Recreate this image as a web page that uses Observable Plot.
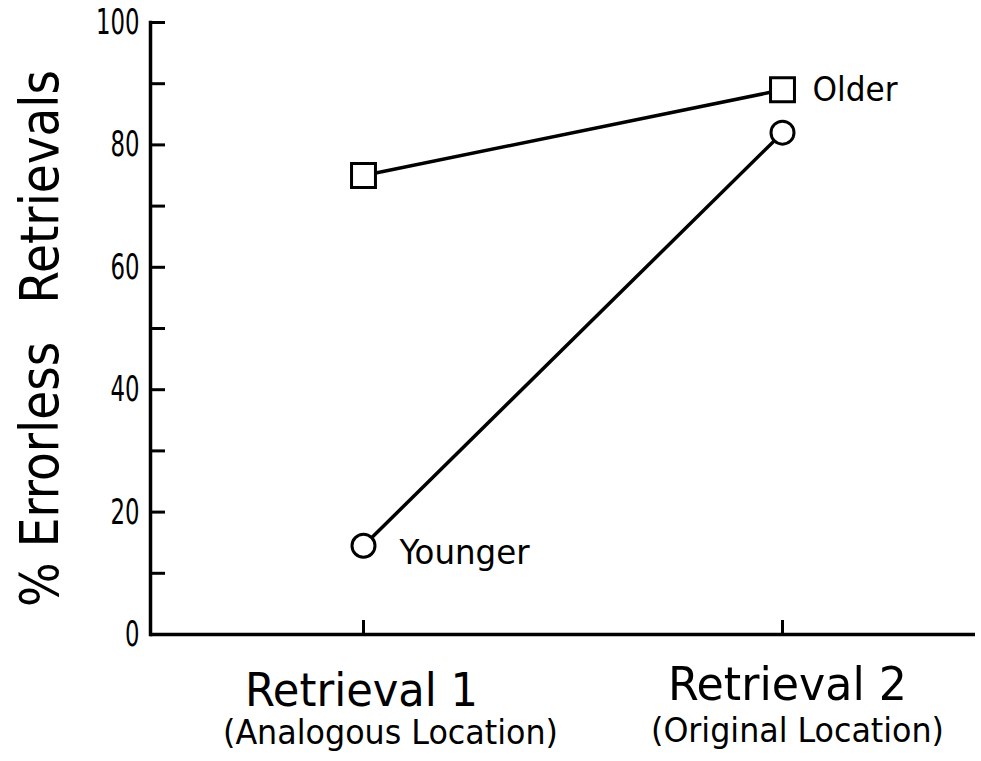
<!DOCTYPE html>
<html><head><meta charset="utf-8">
<script src="https://cdn.jsdelivr.net/npm/d3@7"></script>
<script src="https://cdn.jsdelivr.net/npm/@observablehq/plot@0.6"></script>
<style>
html,body{margin:0;padding:0;background:#fff;}
</style></head><body><div id="chart"></div>
<script>
const categories = ["Retrieval 1", "Retrieval 2"];
const subLabels = ["(Analogous Location)", "(Original Location)"];
const olderValues = [75, 89];
const youngerValues = [14.5, 82];
const yTickLabels = [0, 20, 40, 60, 80, 100];
const yMinorTicks = [10, 30, 50, 70, 90];
const yTitle = "% Errorless\u2002\u00a0Retrievals";

const older = categories.map((c, i) => ({group: "Older", cat: c, value: olderValues[i]}));
const younger = categories.map((c, i) => ({group: "Younger", cat: c, value: youngerValues[i]}));
const data = [...older, ...younger];
const subData = categories.map((c, i) => ({cat: c, label: subLabels[i]}));

const W = 981, H = 761, ML = 150, MR = 6, MT = 22, MB = 127;
const frameW = W - ML - MR, frameH = H - MT - MB;
const font = "'DejaVu Sans Condensed','DejaVu Sans',sans-serif";

// rendered text widths (narrow lettering of the original)
const textWidths = {
  "Retrieval 1": 233, "Retrieval 2": 239,
  "(Analogous Location)": 335, "(Original Location)": 293,
  "Older": 85, "Younger": 130
};
const yTitleWidth = 537;
const digitWidth = 14.5;

const plot = Plot.plot({
  width: W, height: H,
  marginLeft: ML, marginRight: MR, marginTop: MT, marginBottom: MB,
  style: {fontFamily: font, background: "white", color: "black"},
  x: {type: "point", domain: categories, range: [363, 782], padding: 0, axis: null},
  y: {domain: [0, 100], axis: null},
  marks: [
    Plot.frame({anchor: "left", stroke: "black", strokeWidth: 3.5}),
    Plot.ruleY([0], {stroke: "black", strokeWidth: 3.5}),
    Plot.ruleY([...yTickLabels, ...yMinorTicks], {stroke: "black", strokeWidth: 3, insetRight: frameW - 15}),
    Plot.ruleX(categories, {x: d => d, stroke: "black", strokeWidth: 3, insetTop: frameH - 14}),
    Plot.axisY(yTickLabels, {tickSize: 0, tickPadding: 11, fontSize: 36, label: null}),
    Plot.text([yTitle], {frameAnchor: "left", textAnchor: "middle", rotate: -90, dx: -109, dy: 10, fontSize: 53}),
    Plot.text(categories.slice(0, 1), {x: d => d, frameAnchor: "bottom", lineAnchor: "bottom", dy: 71, dx: -2, fontSize: 47}),
    Plot.text(categories.slice(1), {x: d => d, frameAnchor: "bottom", lineAnchor: "bottom", dy: 65, dx: 5, fontSize: 47}),
    Plot.text(subData.slice(0, 1), {x: "cat", text: "label", frameAnchor: "bottom", lineAnchor: "bottom", dy: 109, dx: 27, fontSize: 34}),
    Plot.text(subData.slice(1), {x: "cat", text: "label", frameAnchor: "bottom", lineAnchor: "bottom", dy: 107, dx: 15, fontSize: 34}),
    Plot.line(data, {x: "cat", y: "value", z: "group", stroke: "black", strokeWidth: 3.5}),
    Plot.dot(older, {x: "cat", y: "value", symbol: "square", r: 13.5, fill: "white", stroke: "black", strokeWidth: 3}),
    Plot.dot(younger, {x: "cat", y: "value", symbol: "circle", r: 11.5, fill: "white", stroke: "black", strokeWidth: 3}),
    Plot.text(older.slice(-1), {x: "cat", y: "value", text: "group", textAnchor: "start", dx: 30, dy: 0, fontSize: 34}),
    Plot.text(younger.slice(0, 1), {x: "cat", y: "value", text: "group", textAnchor: "start", dx: 36, dy: 7, fontSize: 34})
  ]
});
document.getElementById("chart").appendChild(plot);

d3.select(plot).selectAll("text").each(function() {
  const t = this.textContent.trim();
  if (t.includes("Errorless")) {
    // compress the rotated title along its own direction
    const L = this.getComputedTextLength();
    if (L > 0) {
      const tr = this.getAttribute("transform") || "";
      this.setAttribute("transform", `${tr} scale(${yTitleWidth / L},1)`);
    }
    return;
  }
  let w = textWidths[t];
  if (w == null && /^\d+$/.test(t)) w = t.length * digitWidth;
  if (w != null) {
    this.setAttribute("textLength", w);
    this.setAttribute("lengthAdjust", "spacingAndGlyphs");
  }
});
</script>
</body></html>
